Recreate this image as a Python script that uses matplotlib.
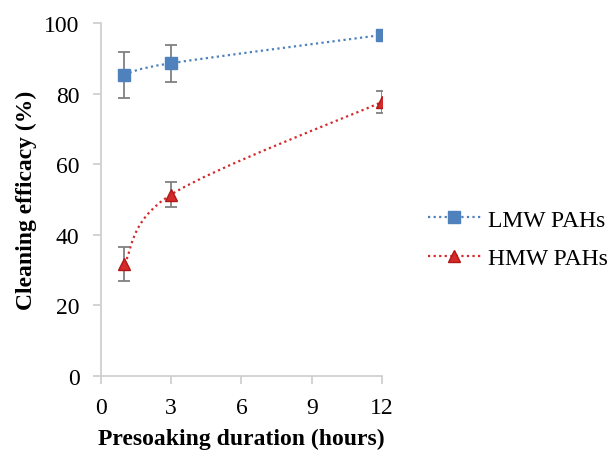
import numpy as np
import matplotlib.pyplot as plt
from matplotlib.path import Path
from matplotlib.patches import PathPatch
from matplotlib.lines import Line2D

plt.rcParams['font.family'] = ['Liberation Serif', 'DejaVu Serif']

hours = [1, 3, 12]
lmw = [85.3, 88.6, 96.6]
lmw_err = [6.5, 5.2, 0.0]
hmw = [31.7, 51.4, 77.6]
hmw_err = [4.7, 3.6, 3.2]

BLUE = "#4F81BD"
RED = "#D42A2A"
GRAY = "#808080"
FS = 17


def smooth_path(x, y):
    # Excel-like smoothed line: Catmull-Rom converted to cubic Bezier
    pts = np.column_stack([x, y]).astype(float)
    ext = np.vstack([pts[0], pts, pts[-1]])
    verts = [pts[0]]
    codes = [Path.MOVETO]
    for i in range(1, len(ext) - 2):
        p0, p1, p2, p3 = ext[i - 1], ext[i], ext[i + 1], ext[i + 2]
        verts += [p1 + (p2 - p0) / 6, p2 - (p3 - p1) / 6, p2]
        codes += [Path.CURVE4] * 3
    return Path(verts, codes)


fig = plt.figure(figsize=(6.14, 4.52), dpi=100)
ax = fig.add_axes([0.1645, 0.166, 0.4575, 0.781])

for ys, err, color, marker in [(lmw, lmw_err, BLUE, "s"), (hmw, hmw_err, RED, "^")]:
    ax.add_patch(PathPatch(smooth_path(hours, ys), fill=False, edgecolor=color,
                           linestyle=(0, (1, 1.5)), linewidth=1.6))
    ax.errorbar(hours, ys, yerr=err, fmt="none", ecolor=GRAY, elinewidth=1.3,
                capsize=4.5, capthick=1.3, zorder=3)
    ax.plot(hours, ys, linestyle="none", marker=marker, markersize=8,
            markerfacecolor=color, markeredgecolor=color if marker == "s" else "#B01818",
            zorder=4)

ax.set_xlim(0, 12)
ax.set_ylim(0, 100)
ax.set_xticks([0, 3, 6, 9, 12])
ax.set_yticks([0, 20, 40, 60, 80, 100])
for s in ["top", "right"]:
    ax.spines[s].set_visible(False)
for s in ["left", "bottom"]:
    ax.spines[s].set_color("#D0D0D0")
    ax.spines[s].set_linewidth(1.3)
ax.tick_params(colors="#D0D0D0", labelcolor="black", labelsize=FS, length=6, width=1.3,
               pad=9.5)
ax.set_xlabel("Presoaking duration (hours)", fontsize=FS, fontweight="bold", labelpad=7)
ax.set_ylabel("Cleaning efficacy (%)", fontsize=FS, fontweight="bold", labelpad=5)

handles = [
    Line2D([], [], color=BLUE, linestyle=(0, (1, 1.5)), linewidth=1.6, marker="s",
           markersize=8, markerfacecolor=BLUE),
    Line2D([], [], color=RED, linestyle=(0, (1, 1.5)), linewidth=1.6, marker="^",
           markersize=8, markerfacecolor=RED, markeredgecolor="#B01818"),
]
fig.legend(handles, ["LMW PAHs", "HMW PAHs"], loc="center left",
           bbox_to_anchor=(0.662, 0.469), frameon=False, fontsize=FS,
           handlelength=2.25, handletextpad=0.3, labelspacing=0.7)

fig.savefig("out.png", dpi=100)
